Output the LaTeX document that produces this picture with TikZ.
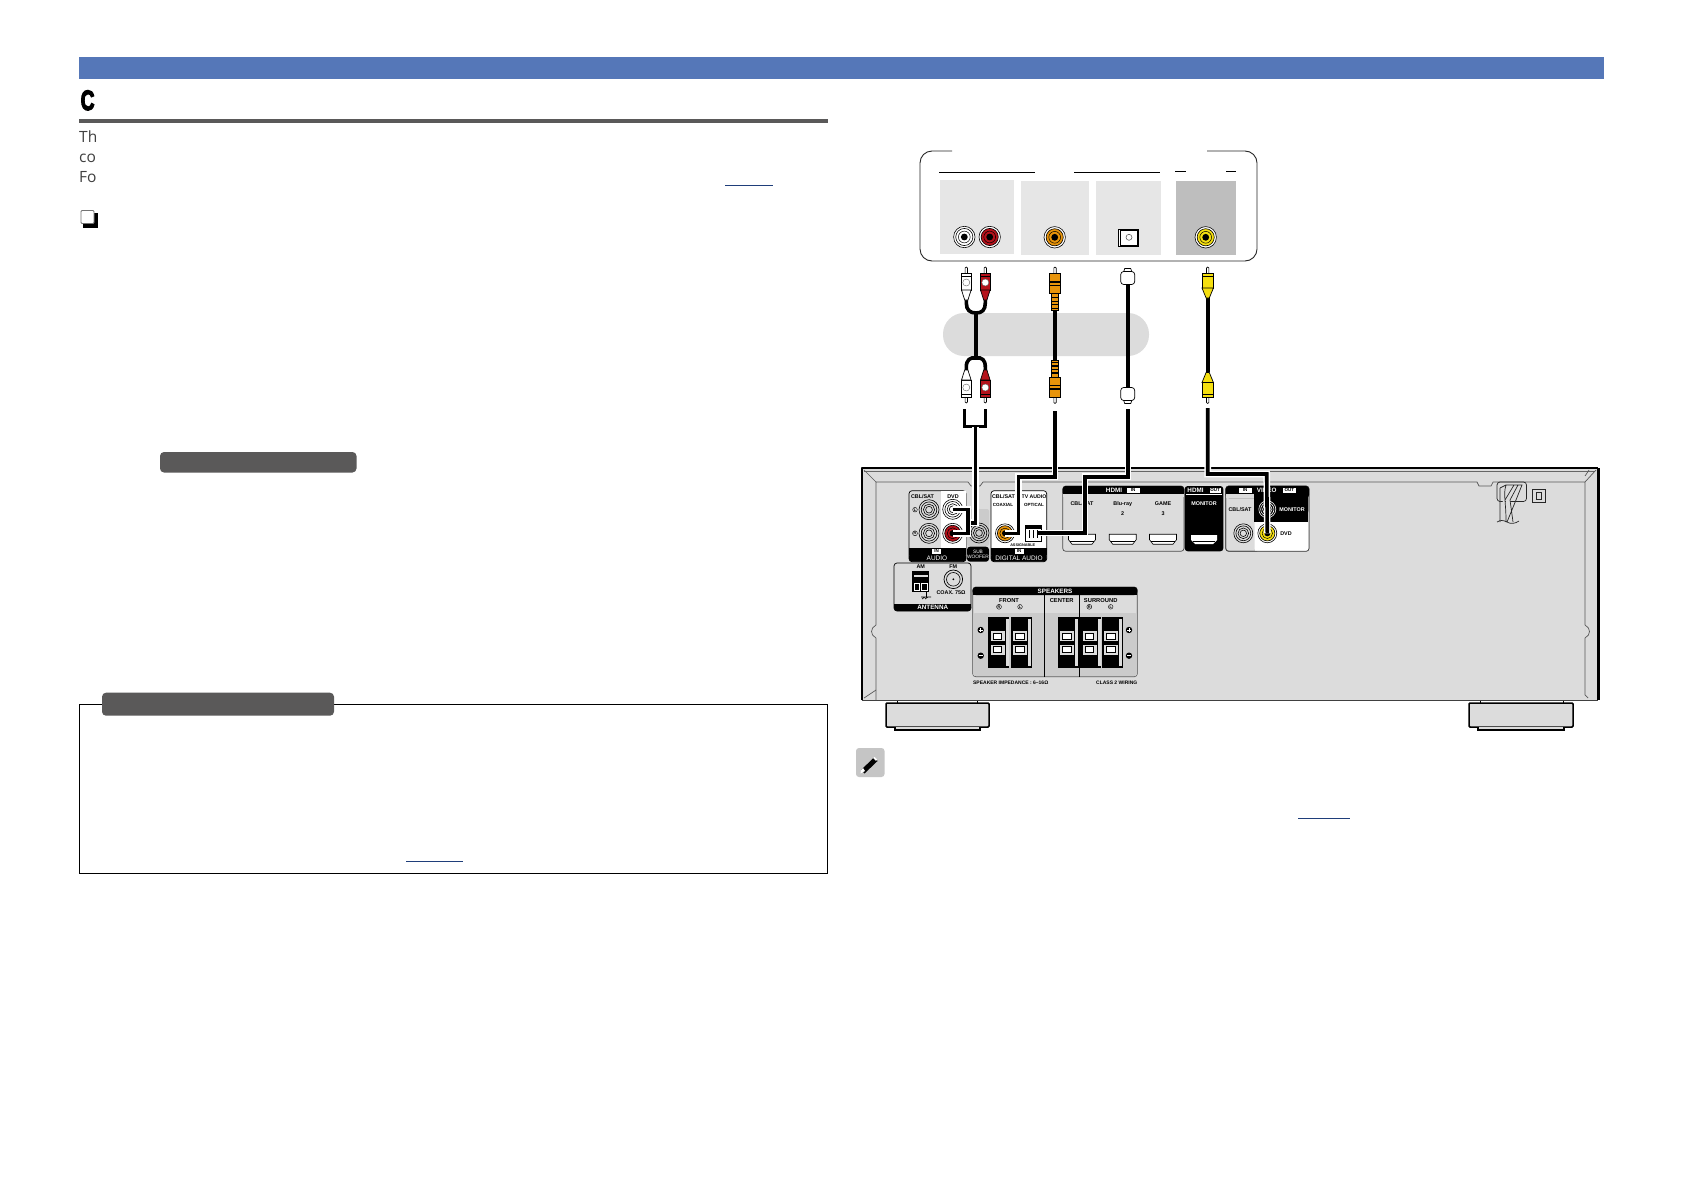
\documentclass[tikz,border=0pt]{standalone}
\usepackage{fontspec}
\setmainfont{Liberation Sans}
\newfontfamily\bodyfont{Open Sans}
\newfontfamily\heavyfont[BoldFeatures={FakeBold=5}]{Liberation Sans}
\usetikzlibrary{calc}
\definecolor{bandblue}{HTML}{5577B8}
\definecolor{darkpill}{HTML}{5A5959}
\definecolor{panelgrey}{HTML}{DCDCDC}
\definecolor{lightbox}{HTML}{E6E6E6}
\definecolor{midbox}{HTML}{BEBEBE}
\definecolor{hatchgrey}{HTML}{CBCBCB}
\definecolor{jackred}{HTML}{B5121B}
\definecolor{jackorange}{HTML}{E8940A}
\definecolor{jackyellow}{HTML}{F5DF10}
\definecolor{linkblue}{HTML}{1F3E7A}
\newcounter{nn}
\tikzset{
  cable/.style={line width=3.6pt,line join=miter,line cap=butt},
  halocable/.style={cable,preaction={draw=white,line width=6.6pt}},
  ln/.style={line width=.7pt,draw=black},
  lb/.style={font=\fontsize{5.4}{5.4}\selectfont\bfseries,inner sep=0pt,align=center},
  lbm/.style={font=\fontsize{5.8}{5.8}\selectfont\bfseries,inner sep=0pt,align=center},
  ltiny/.style={font=\fontsize{4.5}{4.5}\selectfont\bfseries,inner sep=0pt,align=center},
  lw/.style={lb,text=white},
  lwb/.style={font=\fontsize{6.3}{6.3}\selectfont\bfseries,inner sep=0pt,text=white},
  lbig/.style={font=\fontsize{6.5}{6.5}\selectfont,inner sep=0pt,text=white},
  tagbox/.style={fill=white,text=black,font=\fontsize{4.5}{4.5}\selectfont\bfseries,inner sep=0pt,minimum height=5pt,minimum width=10pt},
  cc/.style={circle,draw=black,line width=.4pt,inner sep=.4pt,font=\fontsize{3.8}{3.8}\selectfont\bfseries},
  bodytext/.style={inner sep=0pt,anchor=base west,text=black!75,font=\fontsize{15.5}{15.5}\selectfont\bodyfont},
}
% label: style, x, y, text
\newcommand{\lab}[4]{\stepcounter{nn}\node[#1] (lab\arabic{nn}) at (#2,#3) {#4};}
% jack: name, x, y, radius, colour
\newcommand{\jack}[5]{%
  \fill[white] (#2,#3) circle (#4);
  \draw[black,line width=.6pt] (#2,#3) circle (#4);
  \draw[black,line width=.6pt,fill=#5] (#2,#3) circle ({#4*.8});
  \draw[black,line width=.5pt] (#2,#3) circle ({#4*.55});
  \fill[black] (#2,#3) circle ({#4*.32});
  \coordinate (#1) at (#2,#3);}
% grey receiver jack: name x y r bg
\newcommand{\greyjack}[5]{%
  \fill[#5] (#2,#3) circle (#4);
  \foreach \f in {1,.78,.56,.34}{\draw[black,line width=.6pt] (#2,#3) circle ({#4*\f});}
  \coordinate (#1) at (#2,#3);}
% RCA plug type A (white/red): x, y-tip, yscale sign, colour
\newcommand{\plugA}[4]{\begin{scope}[shift={(#1,#2)},yscale=#3]
  \draw[ln,fill=white,line width=.6pt] (-1.2,6) -- (-1.2,1) -- (0,0) -- (1.2,1) -- (1.2,6);
  \draw[ln,fill=#4] (-4.8,6) rectangle (4.8,23);
  \fill[black] (-4.8,8.5) rectangle (4.8,9.3);
  \draw[ln,fill=#4] (-4.8,23) -- (-1.6,33) -- (1.6,33) -- (4.8,23) -- cycle;
  \draw[black!60,line width=.4pt,fill=white] (0,15.5) circle (3.5);
\end{scope}}
% orange plug
\newcommand{\plugB}[4]{\begin{scope}[shift={(#1,#2)},yscale=#3]
  \draw[ln,fill=white,line width=.6pt] (-1.2,6) -- (-1.2,1) -- (0,0) -- (1.2,1) -- (1.2,6);
  \draw[ln,fill=#4] (-5.6,6) rectangle (5.6,26);
  \fill[black] (-5.6,14) rectangle (5.6,16);
  \fill[black] (-5.6,17.5) rectangle (5.6,18.4);
  \draw[ln,fill=#4] (-3.4,26) rectangle (3.4,43);
  \foreach \yy in {30,33.5,37,40.5}{\fill[black] (-3.4,\yy) rectangle (3.4,\yy+1.4);}
\end{scope}}
% yellow plug
\newcommand{\plugC}[4]{\begin{scope}[shift={(#1,#2)},yscale=#3]
  \draw[ln,fill=white,line width=.6pt] (-1.2,6) -- (-1.2,1) -- (0,0) -- (1.2,1) -- (1.2,6);
  \draw[ln,fill=#4] (-5.7,6) rectangle (5.7,21);
  \fill[black] (-5.7,9) rectangle (5.7,10);
  \draw[ln,fill=#4] (-5.7,21) -- (-1.6,31) -- (1.6,31) -- (5.7,21) -- cycle;
\end{scope}}
% optical plug
\newcommand{\plugD}[3]{\begin{scope}[shift={(#1,#2)},yscale=#3]
  \draw[ln,fill=white] (-4,4) -- (-3,1) -- (3,1) -- (4,4) -- cycle;
  \draw[ln,fill=white,rounded corners=3pt] (-7,4) rectangle (7,17);
\end{scope}}
% HDMI socket
\newcommand{\hdmi}[4]{%
  \draw[#3,fill=#4,line width=.6pt] (#1-13.5,#2-4.5) -- (#1+13.5,#2-4.5) -- (#1+13.5,#2+1) -- (#1+10,#2+5.5) -- (#1-10,#2+5.5) -- (#1-13.5,#2+1) -- cycle;
  \fill[#3] (#1-12,#2+2.2) rectangle (#1+12,#2+3.6);}
% speaker terminal: x y
\newcommand{\spk}[2]{\begin{scope}[shift={(#1,#2)}]
  \fill[black] (0,0) rectangle (21,51.5);
  \fill[panelgrey] (17.5,2) rectangle (20.5,49.5);
  \foreach \yy in {14,27.5}{
    \draw[black,line width=.8pt,fill=panelgrey] (2,\yy) rectangle (17,\yy+11);
    \draw[black,line width=.8pt,fill=white] (5,\yy+2.5) rectangle (13.5,\yy+8.5);}
\end{scope}}
\begin{document}
\begin{tikzpicture}[x=1pt,y=-1pt]
\useasboundingbox (0,0) rectangle (1684,1191);
\fill[white] (0,0) rectangle (1684,1191);
% page furniture
\fill[bandblue] (79,57) rectangle (1604,79);
\node[inner sep=0pt,anchor=base west,font=\fontsize{28}{28}\selectfont\heavyfont\bfseries] (headC) at (80.5,110) {\scalebox{.68}[1]{C}};
\fill[darkpill] (79,119.3) rectangle (828,123);
\lab{bodytext}{79}{142}{Th}
\lab{bodytext}{79}{162}{co}
\lab{bodytext}{79}{182}{Fo}
\fill[linkblue] (725,185.2) rectangle (773,186.4);
\fill[black] (83,213) rectangle (97.5,227.5);
\draw[black!55,fill=white,line width=.8pt,rounded corners=1pt] (81,210.5) rectangle (94,223.5);
\fill[darkpill,rounded corners=4pt] (160,452) rectangle (356.5,472.5);
% notes box
\draw[black,line width=1pt] (79.4,704) rectangle (827.5,873.5);
\fill[darkpill,rounded corners=4pt] (102,692.7) rectangle (334,715.7);
\fill[linkblue] (406,860.5) rectangle (463,861.7);
% pencil
\fill[midbox!90!white,rounded corners=3pt] (856,748) rectangle (884.5,777);
\fill[black] (861,770) -- (874,757.5) -- (877.5,761) -- (864.5,773.5) -- cycle;
\fill[white] (861,770) -- (863,768) -- (865,771) -- (860.5,773.5) -- cycle;
\fill[white] (873,758) -- (874.5,757) -- (877,759.5) -- (876,761) -- cycle;
\fill[linkblue] (1298,817.5) rectangle (1350,818.7);

% device box
\draw[black!85,line width=.9pt,rounded corners=12pt] (952,151) -- (920,151) -- (920,261) -- (1257,261) -- (1257,151) -- (1207,151);
\draw[black,line width=.8pt] (939,172.3) -- (1035,172.3);
\draw[black,line width=.8pt] (1074,172.3) -- (1160,172.3);
\draw[black,line width=.8pt] (1175,171.3) -- (1186,171.3);
\draw[black,line width=.8pt] (1226,171.3) -- (1236,171.3);
\fill[lightbox] (940,180) rectangle (1014,254);
\fill[lightbox] (1021,181) rectangle (1089,255);
\fill[lightbox] (1096,181) rectangle (1161,255);
\fill[midbox] (1176,181) rectangle (1236,255);
\jack{jW}{964.3}{237}{10.7}{white}
\jack{jR}{989.7}{237}{10.7}{jackred}
\jack{jO}{1054.7}{237.3}{10.7}{jackorange}
\jack{jY}{1205.7}{237.3}{10.7}{jackyellow}
\draw[black,line width=.8pt,fill=white] (1118.3,229) rectangle (1138.7,246.7);
\draw[black,line width=.4pt] (1120,230.5) -- (1137,230.5) -- (1137,245) -- (1120,245) -- cycle;
\draw[black!70,line width=.5pt] (1129,237.3) circle (3);
\coordinate (jOpt) at (1129,237.3);

% pill behind the cables
\fill[panelgrey,rounded corners=21pt] (943,313) rectangle (1149,356);

% upper / lower cable sections
\coordinate (wTop) at (966.3,297);
\coordinate (rTop) at (985.3,297);
\coordinate (stemTop) at (976,313);
\coordinate (stemBot) at (976,358);
\coordinate (wBot) at (966.3,373);
\coordinate (rBot) at (985.3,373);
\draw[cable] (wTop) -- (966.3,303) .. controls (966.3,310) and (970,313) .. (stemTop) .. controls (982,313) and (985.3,310) .. (985.3,303) -- (rTop);
\draw[cable] (stemTop) -- (stemBot);
\draw[cable] (wBot) -- (966.3,367) .. controls (966.3,360) and (970,357) .. (stemBot) .. controls (982,357) and (985.3,360) .. (985.3,367) -- (rBot);
\coordinate (oTop) at (1055,308);
\coordinate (oBot) at (1055,362);
\draw[cable] (oTop) -- (oBot);
\coordinate (optTop) at (1128,283);
\coordinate (optBot) at (1128,389);
\draw[cable] (optTop) -- (optBot);
\coordinate (yTop) at (1207.7,296);
\coordinate (yBot) at (1207.7,372);
\draw[cable] (yTop) -- (yBot);
% plugs
\plugA{966.3}{267}{1}{white}
\plugA{985.3}{267}{1}{jackred}
\plugA{966.3}{403}{-1}{white}
\plugA{985.3}{403}{-1}{jackred}
\plugB{1055}{267}{1}{jackorange}
\plugB{1055}{403.5}{-1}{jackorange}
\plugD{1127.7}{267.5}{1}
\plugD{1127.7}{404.5}{-1}
\plugC{1207.7}{267}{1}{jackyellow}
\plugC{1207.7}{403.5}{-1}{jackyellow}

% receiver body
\fill[panelgrey] (862,468) rectangle (1598,700);
\draw[black,line width=2.4pt,line join=round] (862,700) -- (862,468) -- (1598,468);
\draw[black,line width=3pt,line join=round] (1598,468) -- (1598,700);
\draw[black!75,line width=1pt] (862,700) -- (1598,700);
\draw[black!60,line width=.8pt] (864,471) -- (1595,471);
% inner lines
\draw[black!65,line width=.7pt] (876,700) -- (876,638) .. controls (870,635) and (870,628) .. (876,625) -- (876,482) -- (968,482) -- (971,486) -- (980,486) -- (983,482) -- (1477,482) -- (1479,486) -- (1491,486) -- (1493,482) -- (1585,482) -- (1585,625) .. controls (1591,628) and (1591,635) .. (1585,638) -- (1585,695) -- (1588,698);
\draw[black!65,line width=.7pt] (864,470) -- (876,482);
\draw[black!65,line width=.7pt] (1596,470) -- (1585,482);
\draw[black!65,line width=.7pt] (1589,470) -- (1585,476) ;
\draw[black!65,line width=.7pt] (864,698) -- (876,690);
% feet
\draw[black,line width=1.5pt,fill=panelgrey,rounded corners=1pt] (886,703) rectangle (989,727);
\draw[black,line width=1.5pt,fill=panelgrey] (895,727) -- (895,730) -- (980,730) -- (980,727);
\draw[black,line width=1.5pt,fill=panelgrey,rounded corners=1pt] (1469,703) rectangle (1573,727);
\draw[black,line width=1.5pt,fill=panelgrey] (1478,727) -- (1478,730) -- (1564,730) -- (1564,727);
\draw[black,line width=1pt] (897,701) -- (897,703) (977,701) -- (977,703);
\draw[black,line width=1pt] (1480,701) -- (1480,703) (1563,701) -- (1563,703);
% strain relief
\draw[black!85,line width=.7pt,rounded corners=3pt] (1497,482) rectangle (1526.5,501.5);
\draw[black!85,line width=.7pt,fill=panelgrey] (1500,488) -- (1506,485) -- (1522,485) -- (1516,500) -- (1507,522) (1500,488) -- (1500,522) (1506,485) .. controls (1503,495) and (1506,500) .. (1506,522) (1514,485) -- (1505,500) (1518,485) -- (1510,500) -- (1513,522);
\draw[black!85,line width=.7pt] (1497,522) .. controls (1500,520) and (1503,520) .. (1507,522) .. controls (1510,524) and (1515,524) .. (1519,521);
\draw[black!85,line width=.7pt] (1532,489.3) rectangle (1545.7,502.7);
\draw[black!85,line width=.7pt] (1536,492.5) rectangle (1541.7,499.5);

% AUDIO panel
\draw[black,line width=.7pt,fill=panelgrey,rounded corners=3pt] (909,490.7) rectangle (966,561.7);
\fill[white] (941,491.2) rectangle (965.5,548);
\fill[black,rounded corners=3pt] (909,553) rectangle (966,561.7);
\fill[black] (909,548) rectangle (966,555);
\lab{lb}{922.5}{496.5}{CBL/SAT}
\lab{lb}{953}{496.5}{DVD}
\lab{cc}{915}{509.7}{L}
\lab{cc}{915}{533.3}{R}
\greyjack{jAudL1}{929}{509.7}{10}{panelgrey}
\greyjack{jAudR1}{929}{533.3}{10}{panelgrey}
\greyjack{jDvdL}{952.7}{509.3}{10}{white}
\jack{jDvdR}{952.7}{533.3}{10}{jackred}
\lab{tagbox,minimum width=9pt}{936.7}{551}{IN}
\lab{lbig}{937}{558.2}{AUDIO}
% SUB WOOFER
\fill[hatchgrey,rounded corners=2pt] (967,509) rectangle (989,546);
\fill[black,rounded corners=3pt] (967,546.7) rectangle (989,561.7);
\greyjack{jSub}{979}{533}{10}{hatchgrey}
\lab{lw,font=\fontsize{4.8}{5}\selectfont}{978}{554.5}{SUB\\WOOFER}
% DIGITAL AUDIO
\draw[black,line width=.7pt,fill=white,rounded corners=3pt] (991,490.7) rectangle (1046.7,561.7);
\fill[black,rounded corners=3pt] (991,553) rectangle (1046.7,561.7);
\fill[black] (991,548) rectangle (1046.7,555);
\lab{lb}{1003.5}{496.5}{CBL/SAT}
\lab{lb,font=\fontsize{5.2}{5.2}\selectfont\bfseries}{1034}{496.5}{TV AUDIO}
\lab{ltiny}{1003}{505}{COAXIAL}
\lab{ltiny}{1034}{505}{OPTICAL}
\jack{jCoax}{1005}{533.3}{9.5}{jackorange}
\draw[black,line width=.7pt,fill=white] (1025,525) rectangle (1041.5,541);
\fill[black] (1026,525) rectangle (1041,528.5);
\draw[black,line width=.5pt] (1029,530) -- (1029,538) (1033,530) -- (1033,538) (1037,530) -- (1037,538);
\coordinate (jOptIn) at (1038,533);
\lab{lb,font=\fontsize{3.8}{4}\selectfont\bfseries}{1022.7}{544.7}{ASSIGNABLE}
\lab{tagbox,minimum width=9pt}{1019}{551}{IN}
\lab{lbig}{1019}{558.2}{DIGITAL AUDIO}
% HDMI IN
\draw[black!70,line width=.7pt,rounded corners=3pt] (1062.7,486) rectangle (1184,551.3);
\fill[black,rounded corners=3pt] (1062.7,486) rectangle (1184,496);
\fill[black] (1062.7,490) rectangle (1184,494);
\fill[panelgrey] (1063,494) rectangle (1183.7,497);
\lab{lwb}{1114}{490}{HDMI}
\lab{tagbox,minimum width=13pt}{1133}{490}{IN}
\lab{lb}{1082}{504}{CBL/SAT}
\lab{lb}{1122.7}{504}{Blu-ray}
\lab{lb}{1122.7}{513.3}{2}
\lab{lb}{1163}{504}{GAME}
\lab{lb}{1163}{513.3}{3}
\hdmi{1082}{538.7}{black}{white}
\hdmi{1122.7}{538.7}{black}{white}
\hdmi{1163}{538.7}{black}{white}
% HDMI OUT
\fill[black,rounded corners=3pt] (1184.7,486) rectangle (1223.3,551.3);
\draw[white,line width=.6pt] (1186,494.3) -- (1222,494.3);
\lab{lwb}{1195.5}{490}{HDMI}
\lab{tagbox,minimum width=11pt}{1215}{490}{OUT}
\lab{lw}{1204}{504}{MONITOR}
\fill[white] (1191,535) -- (1217,535) -- (1217,540) -- (1213,544) -- (1195,544) -- (1191,540) -- cycle;
\fill[black] (1193,541) rectangle (1215,542.3);
% VIDEO
\draw[black!70,line width=.7pt,fill=panelgrey,rounded corners=3pt] (1225.7,486) rectangle (1309,551.3);
\fill[white,rounded corners=3pt] (1254.5,510) rectangle (1309,551.3);
\fill[white] (1254.5,510) rectangle (1300,551.3);
\draw[black!70,line width=.7pt,rounded corners=3pt] (1225.7,486) rectangle (1309,551.3);
\fill[black,rounded corners=3pt] (1225.7,486) rectangle (1309,498);
\fill[black] (1225.7,490) rectangle (1309,494);
\fill[panelgrey] (1226.2,494) rectangle (1254,498);
\fill[black] (1254,495) rectangle (1308,521.7);
\lab{lb}{1240}{509.3}{CBL/SAT}
\greyjack{jVid1}{1243.3}{533.3}{9.5}{panelgrey}
\coordinate (jVidMon) at (1267.3,509.3);
\foreach \f in {1,.78,.56,.34}{\draw[white,line width=.6pt] (jVidMon) circle ({8.5*\f});}
\jack{jVidDvd}{1267.3}{533.3}{9.5}{jackyellow}
\lab{lw}{1292}{509.3}{MONITOR}
\lab{lb}{1286}{533.3}{DVD}
\lab{tagbox,minimum width=13pt}{1245}{490}{IN}
\lab{lwb}{1266.7}{490}{VIDEO}
\lab{tagbox,minimum width=13pt}{1289.3}{490}{OUT}
% ANTENNA
\draw[black,line width=.7pt,rounded corners=3pt] (894,563) rectangle (971,611);
\fill[black,rounded corners=3pt] (894,604) rectangle (971,611);
\fill[black] (894,604) rectangle (971,607);
\lab{lwb}{932.7}{607.6}{ANTENNA}
\lab{lb}{920.7}{567}{AM}
\lab{lb}{953.3}{567}{FM}
\fill[black] (912,571) rectangle (929,592);
\fill[panelgrey] (913.5,574.5) rectangle (927.5,577);
\draw[white,line width=.6pt,fill=black] (914,583) rectangle (919.5,590);
\draw[white,line width=.6pt,fill=black] (921.5,583) rectangle (927,590);
\draw[black,line width=.6pt] (926,592) -- (926,597);
\draw[black,line width=.6pt] (921,597) -- (931,597) (922,599) -- (925,597) (925,599) -- (928,597);
\draw[black,line width=.7pt] (953.3,579.3) circle (9.3);
\draw[black,line width=.6pt] (953.3,579.3) circle (6.8);
\fill[black] (953.3,579.3) circle (1);
\coordinate (jFM) at (953.3,579.3);
\lab{lb}{951}{592.3}{COAX. 75Ω}
% SPEAKERS
\draw[black!70,line width=.7pt,fill=panelgrey,rounded corners=3pt] (972.7,587) rectangle (1137.3,676.7);
\fill[hatchgrey,rounded corners=2pt] (973.2,613) rectangle (1136.8,676.2);
\fill[black,rounded corners=3pt] (972.7,587) rectangle (1137.3,595);
\fill[black] (972.7,592) rectangle (1137.3,595);
\draw[black,line width=.7pt] (1044.3,595) -- (1044.3,676.7);
\draw[black,line width=.7pt] (1079.3,595) -- (1079.3,676.7);
\lab{lwb}{1055}{591}{SPEAKERS}
\lab{lbm}{1009}{600}{FRONT}
\lab{lbm}{1061.7}{600}{CENTER}
\lab{lbm}{1100.7}{600}{SURROUND}
\lab{cc}{999}{606.8}{R}
\lab{cc}{1020}{606.8}{L}
\lab{cc}{1089.3}{606.8}{R}
\lab{cc}{1110.7}{606.8}{L}
\spk{988}{616.7}
\spk{1010.5}{616.7}
\spk{1057.7}{616.7}
\spk{1080}{616.7}
\spk{1101.7}{616.7}
\foreach \xx/\yy/\ss in {980.7/630/+,980.7/655.7/-,1129/630/+,1129/655.7/-}{
  \fill[black] (\xx,\yy) circle (3.2);
  \draw[white,line width=.8pt] (\xx-2,\yy) -- (\xx+2,\yy);
  \if\ss+\draw[white,line width=.8pt] (\xx,\yy-2) -- (\xx,\yy+2);\fi
}
\lab{lb,font=\fontsize{5}{5}\selectfont\bfseries}{1010.7}{682.3}{SPEAKER IMPEDANCE : 6–16Ω}
\lab{lb,font=\fontsize{5}{5}\selectfont\bfseries}{1116.7}{682.3}{CLASS 2 WIRING}

% connecting cables into the receiver
\coordinate (cA) at (964.3,409);
\coordinate (cB) at (985.3,409);
\coordinate (cJ) at (975.3,426.5);
\coordinate (cJ2) at (975.3,522.7);
\coordinate (cK) at (968,522.7);
\draw[cable] (cA) |- (cJ) (cB) |- (cJ);
\draw[halocable] (cJ) -- (cJ2) -- (cK);
\draw[halocable] (jDvdL) -| (968,533.3) -- (jDvdR);
\coordinate (oIn) at (1055,411);
\draw[halocable] (oIn) |- (1018.3,476.7) |- (jCoax);
\coordinate (optIn) at (1128,409);
\draw[halocable] (optIn) |- (1085,476.7) |- (jOptIn);
\coordinate (yIn) at (1207.7,408);
\draw[halocable] (yIn) |- (1266.7,474) -- (jVidDvd);
\end{tikzpicture}
\end{document}
